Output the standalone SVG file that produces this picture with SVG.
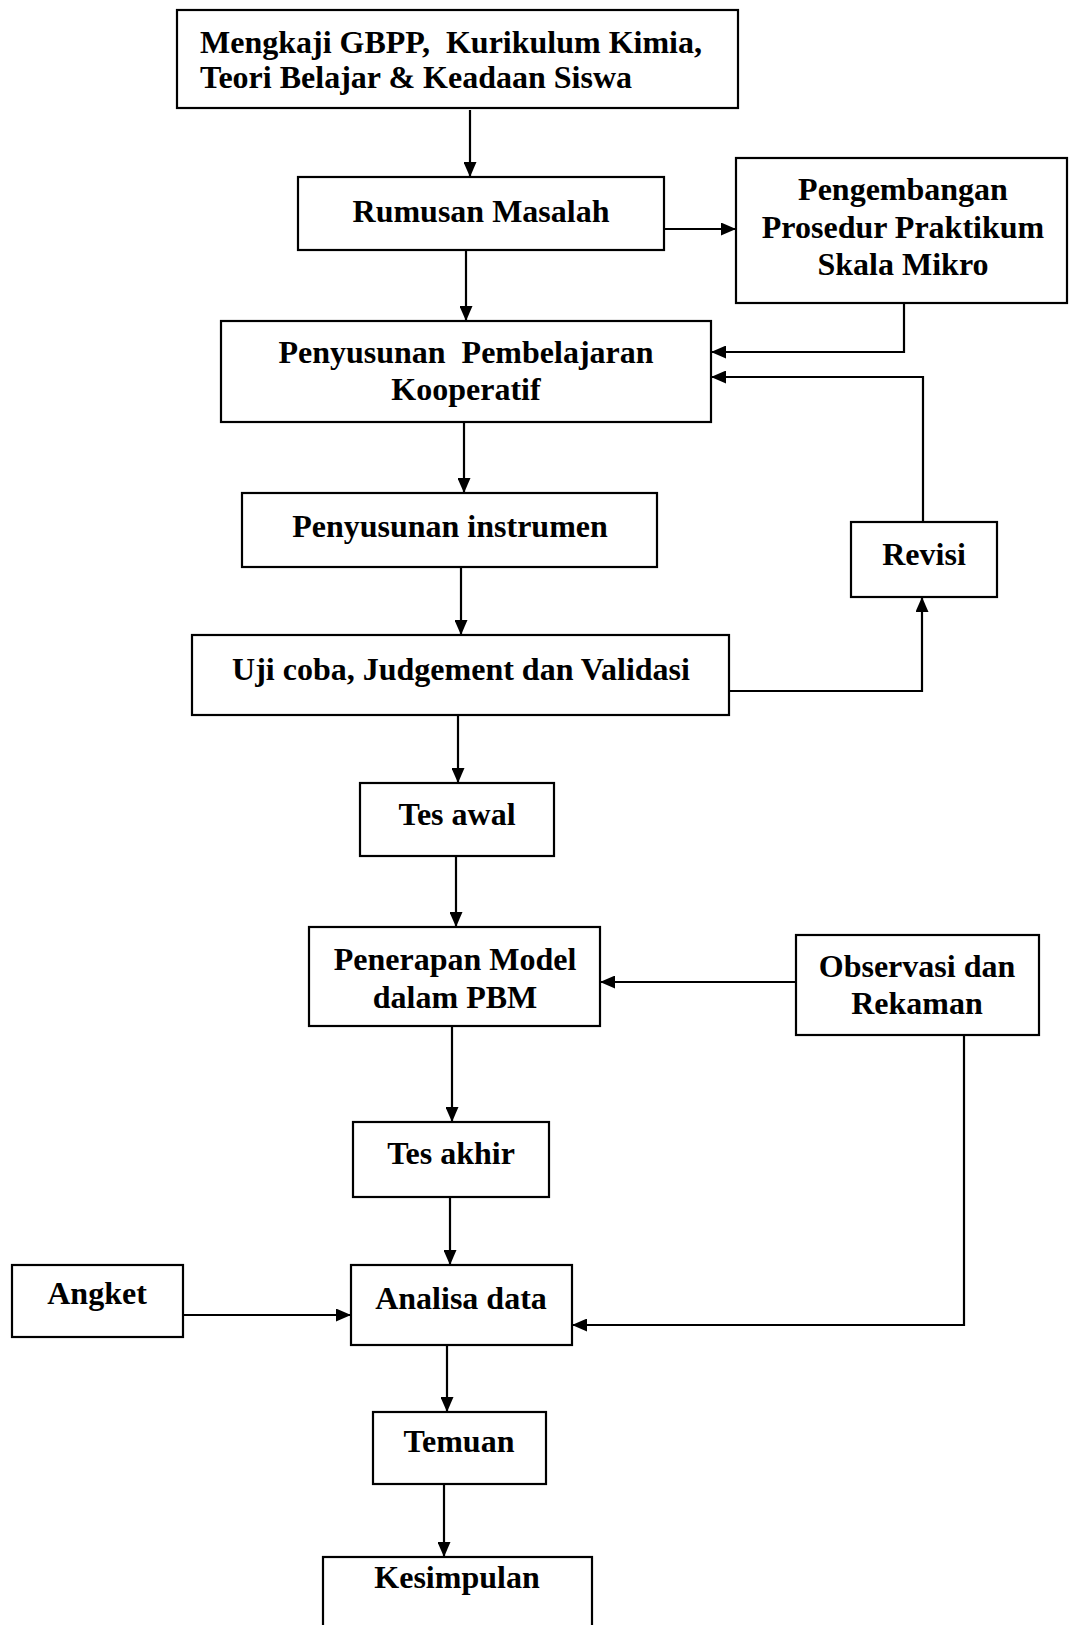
<svg xmlns="http://www.w3.org/2000/svg" width="1070" height="1625" viewBox="0 0 1070 1625">
<style>
.box{fill:#fff;stroke:#000;stroke-width:2.2}
.t{font-family:"Liberation Serif","Times New Roman",serif;font-weight:bold;font-size:32px;fill:#000;text-anchor:middle}
.l{text-anchor:start}
.c{fill:none;stroke:#000;stroke-width:2.2;marker-end:url(#ah)}
</style>
<defs>
<marker id="ah" markerUnits="userSpaceOnUse" markerWidth="15" markerHeight="13" refX="15" refY="6.5" orient="auto">
<path d="M0,0 L15,6.5 L0,13 z" fill="#000"/>
</marker>
</defs>
<rect width="1070" height="1625" fill="#fff"/>
<g id="connectors">
<path class="c" d="M470,110 V177"/>
<path class="c" d="M664,229 H736"/>
<path class="c" d="M466,250 V321"/>
<path class="c" d="M904,303 V352 H711"/>
<path class="c" d="M923,522 V377 H711"/>
<path class="c" d="M464,422 V493"/>
<path class="c" d="M461,567 V635"/>
<path class="c" d="M729,691 H922 V597"/>
<path class="c" d="M458,715 V783"/>
<path class="c" d="M456,856 V927"/>
<path class="c" d="M796,982 H600"/>
<path class="c" d="M452,1026 V1122"/>
<path class="c" d="M450,1197 V1265"/>
<path class="c" d="M183,1315 H351"/>
<path class="c" d="M964,1035 V1325 H572"/>
<path class="c" d="M447,1345 V1412"/>
<path class="c" d="M444,1484 V1557"/>
</g>
<g id="n1"><rect class="box" x="177" y="10" width="561" height="98"/>
<text class="t l" x="200" y="53">Mengkaji GBPP,&#160; Kurikulum Kimia,</text>
<text class="t l" x="200" y="88">Teori Belajar &amp; Keadaan Siswa</text></g>
<g id="n2"><rect class="box" x="298" y="177" width="366" height="73"/>
<text class="t" x="481" y="222">Rumusan Masalah</text></g>
<g id="n3"><rect class="box" x="736" y="158" width="331" height="145"/>
<text class="t" x="903" y="200">Pengembangan</text>
<text class="t" x="903" y="238">Prosedur Praktikum</text>
<text class="t" x="903" y="275">Skala Mikro</text></g>
<g id="n4"><rect class="box" x="221" y="321" width="490" height="101"/>
<text class="t" x="466" y="363">Penyusunan&#160; Pembelajaran</text>
<text class="t" x="466" y="400">Kooperatif</text></g>
<g id="n5"><rect class="box" x="242" y="493" width="415" height="74"/>
<text class="t" x="450" y="537">Penyusunan instrumen</text></g>
<g id="n6"><rect class="box" x="851" y="522" width="146" height="75"/>
<text class="t" x="924" y="565">Revisi</text></g>
<g id="n7"><rect class="box" x="192" y="635" width="537" height="80"/>
<text class="t" x="461" y="680">Uji coba, Judgement dan Validasi</text></g>
<g id="n8"><rect class="box" x="360" y="783" width="194" height="73"/>
<text class="t" x="457" y="825">Tes awal</text></g>
<g id="n9"><rect class="box" x="309" y="927" width="291" height="99"/>
<text class="t" x="455" y="970">Penerapan Model</text>
<text class="t" x="455" y="1008">dalam PBM</text></g>
<g id="n10"><rect class="box" x="796" y="935" width="243" height="100"/>
<text class="t" x="917" y="977">Observasi dan</text>
<text class="t" x="917" y="1014">Rekaman</text></g>
<g id="n11"><rect class="box" x="353" y="1122" width="196" height="75"/>
<text class="t" x="451" y="1164">Tes akhir</text></g>
<g id="n12"><rect class="box" x="12" y="1265" width="171" height="72"/>
<text class="t" x="97" y="1304">Angket</text></g>
<g id="n13"><rect class="box" x="351" y="1265" width="221" height="80"/>
<text class="t" x="461" y="1309">Analisa data</text></g>
<g id="n14"><rect class="box" x="373" y="1412" width="173" height="72"/>
<text class="t" x="459" y="1452">Temuan</text></g>
<g id="n15"><rect class="box" x="323" y="1557" width="269" height="90"/>
<text class="t" x="457" y="1588">Kesimpulan</text></g>
</svg>
